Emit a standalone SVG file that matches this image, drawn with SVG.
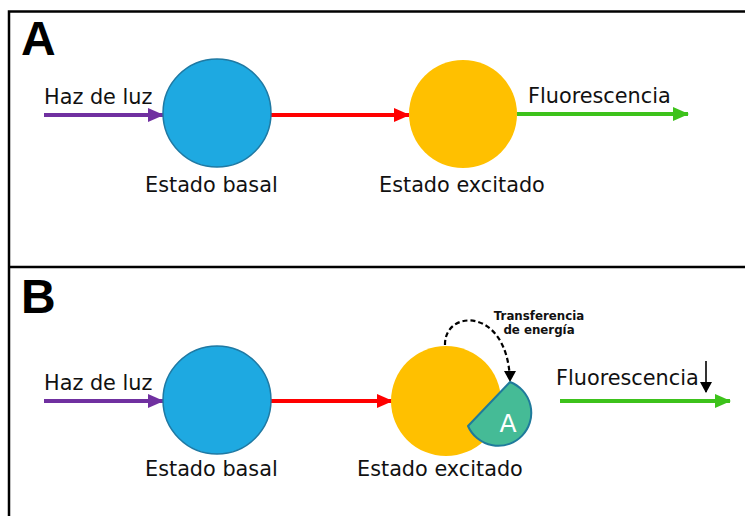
<svg xmlns="http://www.w3.org/2000/svg" width="745" height="516" viewBox="0 0 745 516">
<defs>
<style>
.lbl{font-family:"DejaVu Sans",Verdana,sans-serif;font-size:20.8px;fill:#111}
.pan{font-family:"Liberation Sans",Arial,sans-serif;font-weight:bold;font-size:48px;fill:#000}
.small{font-family:"DejaVu Sans",Verdana,sans-serif;font-weight:bold;font-size:11.8px;fill:#111}
.frame{stroke:#000;stroke-width:2.5;fill:none}
.arr{stroke-width:4;fill:none}
.blue{fill:#1EA9E1;stroke:#1F79A3;stroke-width:1.5}
.orange{fill:#FFC000}
</style>
<marker id="mP" markerUnits="userSpaceOnUse" markerWidth="16" markerHeight="16" viewBox="0 0 16 16" refX="15" refY="8" orient="auto"><path d="M0,1 L16,8 L0,15 Z" fill="#7030A0"/></marker>
<marker id="mR" markerUnits="userSpaceOnUse" markerWidth="16" markerHeight="16" viewBox="0 0 16 16" refX="15" refY="8" orient="auto"><path d="M0,1 L16,8 L0,15 Z" fill="#FF0000"/></marker>
<marker id="mG" markerUnits="userSpaceOnUse" markerWidth="16" markerHeight="16" viewBox="0 0 16 16" refX="15" refY="8" orient="auto"><path d="M0,1 L16,8 L0,15 Z" fill="#3DC21B"/></marker>
<marker id="mK" markerUnits="userSpaceOnUse" markerWidth="12" markerHeight="12" viewBox="0 0 12 12" refX="6" refY="11" orient="0"><path d="M0,1 L12,1 L6,12 Z" fill="#000"/></marker>
</defs>
<g id="frame">
<path class="frame" d="M9,520 L9,11.5 L750,11.5"/>
<path class="frame" d="M9,267 L750,267"/>
</g>
<text class="pan" x="21" y="55">A</text>
<text class="pan" x="21" y="313">B</text>
<g id="connectors">
<line class="arr" x1="44" y1="115" x2="163" y2="115" stroke="#7030A0" marker-end="url(#mP)"/>
<line class="arr" x1="271" y1="115" x2="409" y2="115" stroke="#FF0000" marker-end="url(#mR)"/>
<line class="arr" x1="517" y1="114" x2="688" y2="114" stroke="#3DC21B" marker-end="url(#mG)"/>
<line class="arr" x1="44" y1="401" x2="163" y2="401" stroke="#7030A0" marker-end="url(#mP)"/>
<line class="arr" x1="271" y1="401" x2="392" y2="401" stroke="#FF0000" marker-end="url(#mR)"/>
<line class="arr" x1="560" y1="401" x2="730" y2="401" stroke="#3DC21B" marker-end="url(#mG)"/>
<path d="M445,345 C444,309 508,306 510,381" fill="none" stroke="#000" stroke-width="2.2" stroke-dasharray="5,3" marker-end="url(#mK)"/>
<line x1="706" y1="361" x2="706" y2="392" stroke="#000" stroke-width="1.6" marker-end="url(#mK)"/>
</g>
<g id="A-ground">
<circle class="blue" cx="217" cy="113" r="54"/>
<text class="lbl" x="145" y="192">Estado basal</text>
</g>
<g id="A-excited">
<circle class="orange" cx="463" cy="114" r="54"/>
<text class="lbl" x="379" y="192">Estado excitado</text>
</g>
<g id="A-labels">
<text class="lbl" x="44" y="104">Haz de luz</text>
<text class="lbl" x="528" y="103">Fluorescencia</text>
</g>
<g id="B-ground">
<circle class="blue" cx="217" cy="400" r="54"/>
<text class="lbl" x="145" y="476">Estado basal</text>
</g>
<g id="B-excited">
<circle class="orange" cx="446" cy="401" r="55"/>
<text class="lbl" x="357" y="476">Estado excitado</text>
</g>
<g id="B-acceptor">
<path d="M468,426 L510,382 A33,33 0 1 1 468,426 Z" fill="#45BB96" stroke="#1F7A9B" stroke-width="2" stroke-linejoin="round"/>
<text x="508" y="432" text-anchor="middle" style="font-family:'DejaVu Sans',Verdana,sans-serif;font-size:25px;fill:#fff">A</text>
</g>
<g id="B-labels">
<text class="lbl" x="44" y="390">Haz de luz</text>
<text class="lbl" x="556" y="385">Fluorescencia</text>
<text class="small" x="539" y="320" text-anchor="middle">Transferencia</text>
<text class="small" x="539" y="334" text-anchor="middle">de energía</text>
</g>
</svg>
